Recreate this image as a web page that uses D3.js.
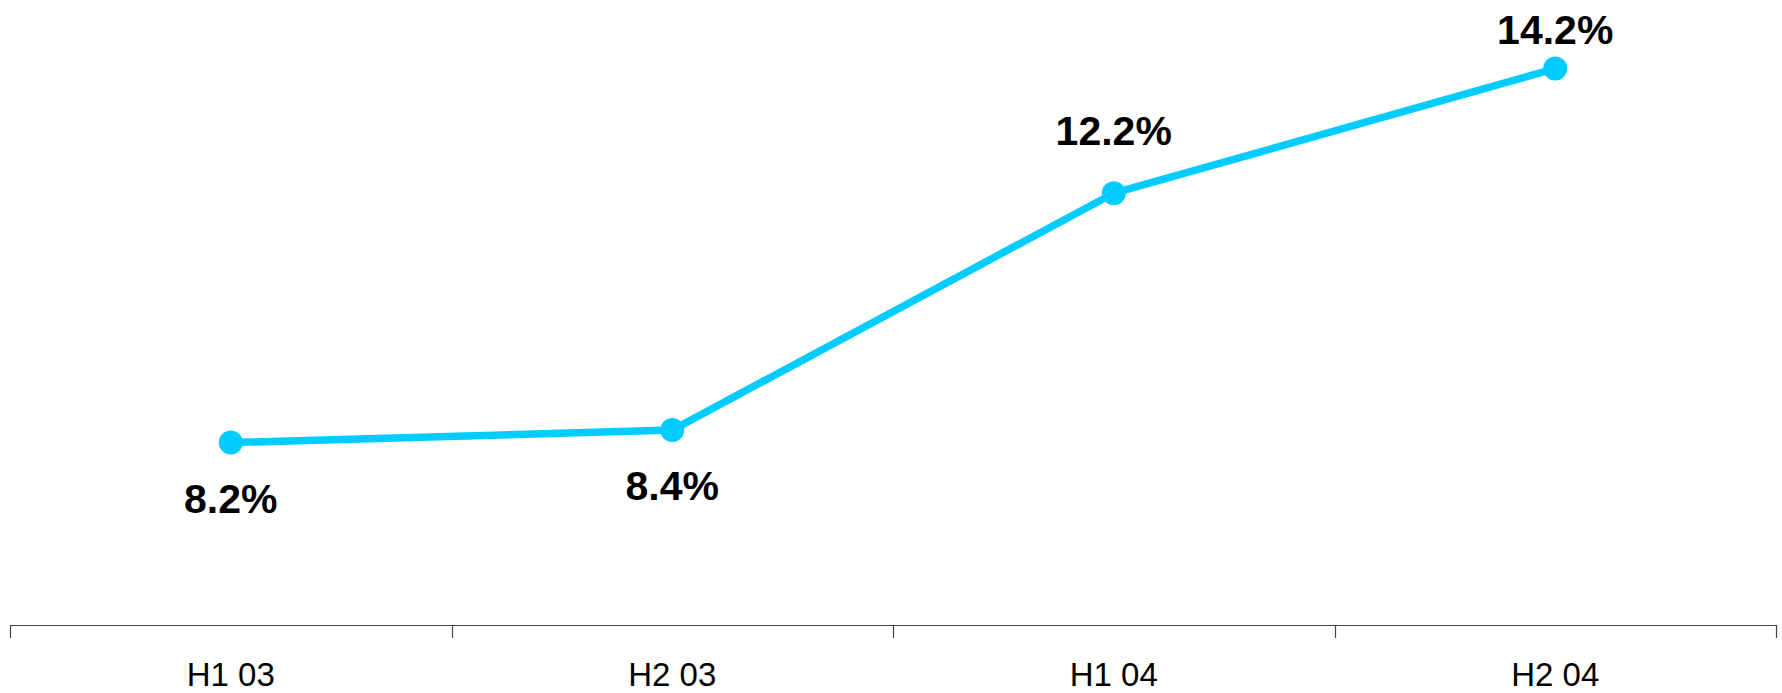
<!DOCTYPE html>
<html>
<head>
<meta charset="utf-8">
<script src="https://cdn.jsdelivr.net/npm/d3@7/dist/d3.min.js"></script>
<style>
  html, body { margin: 0; padding: 0; background: #ffffff; }
  svg { display: block; }
</style>
</head>
<body>
<svg id="chart" width="1782" height="693"></svg>
<script>
// ---- data ----
const categories = ["H1 03", "H2 03", "H1 04", "H2 04"];
const values = [8.2, 8.4, 12.2, 14.2];
const valueLabels = ["8.2%", "8.4%", "12.2%", "14.2%"];
const labelPlacement = ["below", "below", "above", "above"];

// ---- layout ----
const axisY = 625;
const svg = d3.select("#chart");

const x = d3.scaleBand().domain(categories).range([10, 1776]).padding(0);
const y = d3.scaleLinear().domain([5, 15.3]).range([642, 0]);

const color = "#00CCFF";

// axis line
svg.append("line")
  .attr("x1", x.range()[0]).attr("x2", x.range()[1])
  .attr("y1", axisY + 0.5).attr("y2", axisY + 0.5)
  .attr("stroke", "#444").attr("stroke-width", 1.2);

// tick marks at band boundaries
const boundaries = categories.map(c => x(c)).concat([x.range()[1]]);
svg.selectAll("line.tick").data(boundaries).enter().append("line")
  .attr("class", "tick")
  .attr("x1", d => Math.round(d) + 0.5).attr("x2", d => Math.round(d) + 0.5)
  .attr("y1", axisY).attr("y2", axisY + 13)
  .attr("stroke", "#444").attr("stroke-width", 1.2);

// category labels
svg.selectAll("text.cat").data(categories).enter().append("text")
  .attr("class", "cat")
  .attr("x", d => x(d) + x.bandwidth() / 2)
  .attr("y", 686)
  .attr("text-anchor", "middle")
  .attr("font-family", "Liberation Sans, Arial, sans-serif")
  .attr("font-size", 33)
  .attr("fill", "#000")
  .text(d => d);

const pts = categories.map((c, i) => ({ c, v: values[i], label: valueLabels[i], pos: labelPlacement[i] }));
const cx = d => x(d.c) + x.bandwidth() / 2;

// line
const line = d3.line().x(cx).y(d => y(d.v));
svg.append("path")
  .datum(pts)
  .attr("d", line)
  .attr("fill", "none")
  .attr("stroke", color)
  .attr("stroke-width", 7.5)
  .attr("stroke-linejoin", "round");

// markers
svg.selectAll("circle.pt").data(pts).enter().append("circle")
  .attr("class", "pt")
  .attr("cx", cx)
  .attr("cy", d => y(d.v))
  .attr("r", 12)
  .attr("fill", color);

// value labels
svg.selectAll("text.val").data(pts).enter().append("text")
  .attr("class", "val")
  .attr("x", cx)
  .attr("y", d => d.pos === "below" ? y(d.v) + 70 : Math.max(y(d.v) - 48, 44))
  .attr("text-anchor", "middle")
  .attr("font-family", "Liberation Sans, Arial, sans-serif")
  .attr("font-size", 41)
  .attr("font-weight", "bold")
  .attr("fill", "#000")
  .text(d => d.label);
</script>
</body>
</html>
